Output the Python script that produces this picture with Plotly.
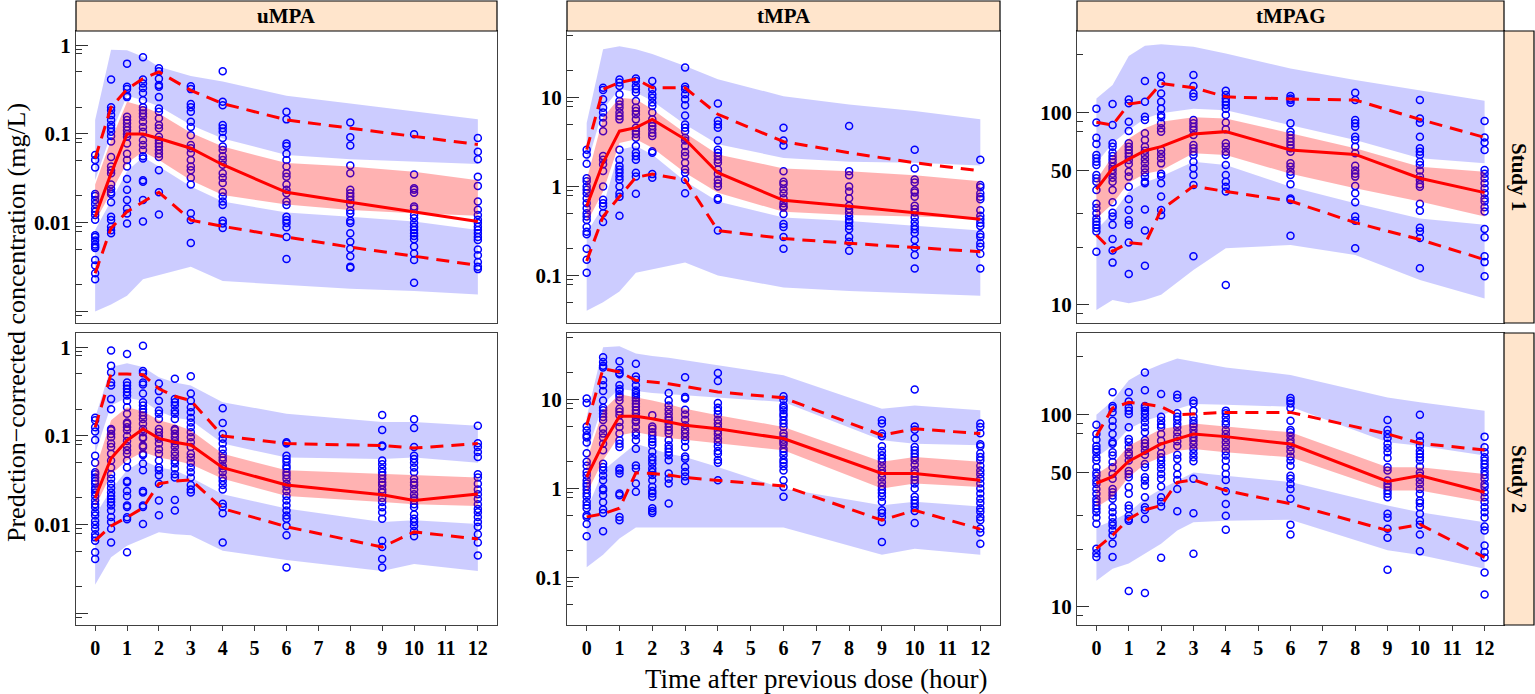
import plotly.graph_objects as go

# ---------------- data ----------------
T1 = [0, 0.5, 1, 1.5, 2, 3, 4, 6, 8, 10, 12]
T2 = [0, 0.5, 1, 1.5, 2, 2.5, 3, 4, 6, 9, 10, 12]
COL_LABELS = ["uMPA", "tMPA", "tMPAG"]
ROW_LABELS = ["Study 1", "Study 2"]
X_TICKS = list(range(13))

Y_MAJOR_U = [0.001, 0.01, 0.1, 1]
Y_MAJOR_U_TXT = ["", "0.01", "0.1", "1"]
Y_MINOR_U = [0.0009, 0.002, 0.005, 0.008, 0.009, 0.02, 0.05, 0.08, 0.09,
             0.2, 0.5, 0.8, 0.9]
Y_MAJOR_T = [0.1, 1, 10]
Y_MAJOR_T_TXT = ["0.1", "1", "10"]
Y_MINOR_T = [0.05, 0.08, 0.09, 0.2, 0.5, 0.8, 0.9, 2, 5, 8, 9, 20, 50]
Y_MAJOR_G = [10, 50, 100]
Y_MAJOR_G_TXT = ["10", "50", "100"]
Y_MINOR_G = [9, 20, 30, 80, 90, 200]

# ---- uMPA, Study 1 ----
A_med = [0.0117, 0.036, 0.1, 0.1, 0.089, 0.069, 0.045, 0.022, 0.017, 0.0133, 0.0103]
A_p95 = [0.053, 0.2, 0.32, 0.42, 0.5, 0.31, 0.22, 0.144, 0.116, 0.093, 0.076]
A_p05 = [0.0027, 0.0087, 0.0133, 0.0173, 0.022, 0.0107, 0.0091, 0.0069, 0.0053, 0.0042, 0.0033]
A_ub_hi = [0.144, 0.89, 0.88, 0.74, 0.57, 0.45, 0.39, 0.27, 0.22, 0.18, 0.146]
A_ub_lo = [0.030, 0.1, 0.27, 0.24, 0.205, 0.126, 0.089, 0.058, 0.052, 0.049, 0.046]
A_pk_hi = [0.027, 0.085, 0.23, 0.205, 0.17, 0.103, 0.072, 0.047, 0.043, 0.0376, 0.030]
A_pk_lo = [0.0103, 0.022, 0.047, 0.063, 0.051, 0.030, 0.0205, 0.016, 0.0139, 0.0128, 0.012]
A_lb_hi = [0.0083, 0.018, 0.038, 0.055, 0.043, 0.0256, 0.0173, 0.013, 0.0117, 0.0103, 0.0083]
A_lb_lo = [0.001, 0.0012, 0.0015, 0.0023, 0.0026, 0.0032, 0.0022, 0.002, 0.0018, 0.0017, 0.00155]
A_obs = [
    [0.058, 0.051, 0.042, 0.021, 0.020, 0.018, 0.0163, 0.0145, 0.0133, 0.0122, 0.0108, 0.0072,
     0.0069, 0.0063, 0.0057, 0.0054, 0.0052, 0.0038, 0.0033, 0.0027, 0.0023],
    [0.41, 0.2, 0.185, 0.163, 0.144, 0.126, 0.116, 0.106, 0.095, 0.082, 0.055, 0.043, 0.039,
     0.036, 0.027, 0.024, 0.022, 0.021, 0.017, 0.0117, 0.0107, 0.009, 0.0082, 0.0076],
    [0.62, 0.34, 0.32, 0.27, 0.26, 0.156, 0.144, 0.132, 0.12, 0.11, 0.1, 0.093, 0.078, 0.06,
     0.051, 0.043, 0.031, 0.0235, 0.018, 0.0145, 0.0127, 0.0098],
    [0.73, 0.41, 0.37, 0.33, 0.29, 0.24, 0.2, 0.185, 0.17, 0.156, 0.137, 0.12, 0.106, 0.085,
     0.075, 0.066, 0.056, 0.053, 0.030, 0.029, 0.018, 0.0103],
    [0.55, 0.51, 0.42, 0.355, 0.34, 0.26, 0.194, 0.178, 0.15, 0.126, 0.116, 0.093, 0.085, 0.078,
     0.072, 0.066, 0.06, 0.055, 0.039, 0.022, 0.0124],
    [0.345, 0.32, 0.217, 0.2, 0.178, 0.137, 0.12, 0.097, 0.075, 0.069, 0.061, 0.051, 0.043,
     0.039, 0.032, 0.027, 0.0128, 0.0107, 0.0059],
    [0.51, 0.23, 0.21, 0.126, 0.116, 0.106, 0.09, 0.072, 0.066, 0.056, 0.051, 0.045, 0.036,
     0.032, 0.028, 0.022, 0.0197, 0.0173, 0.0158, 0.0105, 0.0098, 0.0087],
    [0.178, 0.146, 0.078, 0.073, 0.06, 0.051, 0.043, 0.036, 0.033, 0.027, 0.0235, 0.0215,
     0.0173, 0.0158, 0.0117, 0.0107, 0.0099, 0.0089, 0.0069, 0.0039],
    [0.135, 0.092, 0.074, 0.044, 0.036, 0.0235, 0.0215, 0.0197, 0.018, 0.0163, 0.0137, 0.0127,
     0.0105, 0.0099, 0.0076, 0.0061, 0.0051, 0.0042, 0.0032, 0.0031],
    [0.099, 0.035, 0.0245, 0.0235, 0.0218, 0.0152, 0.0145, 0.0122, 0.0112, 0.0099, 0.009,
     0.0083, 0.0076, 0.0071, 0.0065, 0.0054, 0.0045, 0.0038, 0.0021],
    [0.09, 0.063, 0.052, 0.033, 0.026, 0.0173, 0.014, 0.0122, 0.0108, 0.0099, 0.009, 0.0083,
     0.0076, 0.0069, 0.0064, 0.0050, 0.0043, 0.0036, 0.0032, 0.0030],
]

# ---- tMPA, Study 1 ----
B_med = [0.6, 1.85, 4.2, 4.6, 5.7, 3.4, 1.43, 0.7, 0.6, 0.51, 0.43]
B_p95 = [2.6, 12.4, 14.8, 16.2, 12.9, 12.9, 6.5, 3.2, 2.4, 1.85, 1.5]
B_p05 = [0.145, 0.46, 0.77, 1.27, 1.38, 1.19, 0.32, 0.26, 0.23, 0.205, 0.185]
B_ub_hi = [5.2, 35, 38, 35, 31, 22.7, 16.1, 10.4, 8.4, 7.1, 5.7]
B_ub_lo = [1.7, 7.4, 12.6, 11.4, 9.2, 5.0, 3.0, 2.1, 1.9, 1.85, 1.73]
B_pk_hi = [1.19, 6.0, 10, 9.6, 7.4, 4.0, 2.3, 1.6, 1.49, 1.34, 1.15]
B_pk_lo = [0.39, 0.88, 3.1, 3.4, 2.73, 1.43, 0.85, 0.52, 0.48, 0.46, 0.44]
B_lb_hi = [0.3, 0.6, 2.6, 2.85, 2.3, 1.15, 0.68, 0.45, 0.41, 0.36, 0.32]
B_lb_lo = [0.04, 0.05, 0.066, 0.107, 0.117, 0.14, 0.1, 0.073, 0.067, 0.063, 0.059]
B_obs = [
    [2.6, 2.3, 1.8, 1.24, 1.15, 1.0, 0.92, 0.84, 0.74, 0.65, 0.57, 0.5, 0.46, 0.42, 0.35, 0.31,
     0.29, 0.2, 0.15, 0.107],
    [12.9, 12.2, 9.6, 7.7, 6.8, 6.0, 5.2, 4.2, 2.2, 2.0, 1.78, 1.5, 1.0, 0.71, 0.65, 0.6, 0.5, 0.4],
    [16, 14.8, 13.5, 10.9, 9.2, 8.4, 7.7, 6.8, 6.2, 5.7, 2.6, 2.0, 1.7, 1.56, 1.43, 1.3, 1.19,
     1.0, 0.84, 0.77, 0.47],
    [16.4, 15.4, 13.5, 12.4, 11.4, 9.2, 7.7, 7.1, 6.5, 5.7, 4.6, 4.2, 3.9, 3.55, 2.85, 2.4, 2.2,
     2.0, 1.43, 1.3, 0.83],
    [15.4, 12.4, 10.9, 10, 8.8, 8.06, 6.8, 5.7, 5.2, 4.8, 4.4, 4.0, 3.7, 2.5, 2.4, 1.38, 1.26],
    [21.8, 13.3, 12.4, 10.9, 9.6, 8.2, 6.3, 5.0, 4.6, 4.2, 3.55, 3.3, 2.85, 2.45, 2.2, 1.85,
     1.56, 1.43, 1.19, 0.84],
    [8.6, 5.5, 5.0, 4.6, 3.3, 2.6, 2.4, 2.2, 2.0, 1.85, 1.56, 1.38, 1.19, 1.08, 1.0, 0.74, 0.71, 0.32],
    [4.6, 3.3, 2.9, 1.49, 1.13, 1.06, 0.93, 0.84, 0.74, 0.65, 0.6, 0.58, 0.49, 0.38, 0.35, 0.27, 0.2],
    [4.8, 1.49, 1.34, 1.0, 0.88, 0.74, 0.61, 0.56, 0.51, 0.46, 0.42, 0.4, 0.36, 0.33, 0.27, 0.24, 0.19],
    [2.6, 1.6, 1.2, 1.11, 0.9, 0.86, 0.77, 0.61, 0.56, 0.51, 0.45, 0.4, 0.36, 0.33, 0.3, 0.25,
     0.205, 0.17, 0.12],
    [2.0, 1.04, 0.98, 0.84, 0.77, 0.72, 0.54, 0.47, 0.43, 0.39, 0.36, 0.29, 0.27, 0.23, 0.21,
     0.175, 0.12],
]

# ---- tMPAG, Study 1 ----
C_med = [39.9, 51.4, 57.3, 63.4, 66.6, 77.5, 79.7, 64.0, 60.7, 45.6, 38.4]
C_p95 = [89.1, 86.3, 110.9, 114, 142, 135, 121, 117.8, 116.4, 92.3, 74.4]
C_p05 = [23.1, 19.0, 21.1, 20.7, 31.2, 41.5, 38.9, 34.7, 26.8, 21.9, 17.2]
C_ub_hi = [118.7, 139.4, 197, 223, 227, 220, 203, 170, 148, 130.2, 115.5]
C_ub_lo = [54.5, 69.3, 81.3, 93.4, 99.2, 105, 103, 86.3, 72.1, 57.9, 54.5]
C_pk_hi = [44.7, 59.5, 73.5, 82.9, 89.8, 94.6, 93.4, 78.1, 65.3, 52.4, 49.3]
C_pk_lo = [28.2, 33.6, 43.3, 48.1, 50, 61.5, 60.3, 48.1, 40.4, 34.5, 28.8]
C_lb_hi = [24.6, 30, 38.8, 43.3, 46.5, 55.6, 53.5, 41.2, 33.8, 28.2, 26.1]
C_lb_lo = [9.4, 10.6, 10.2, 10.6, 11.3, 15.2, 19.7, 20.5, 18.2, 13.5, 10.8]
C_obs = [
    [105, 89, 74, 68.8, 60.3, 57.9, 55.6, 53.5, 47.4, 45.6, 43.7, 39.6, 33.6, 31.9, 30, 28.2,
     27.1, 26.1, 25.1, 24.1, 18.9],
    [110.9, 86.3, 69.3, 66.6, 62, 59.5, 57.3, 55.1, 52.4, 50.4, 48.1, 45.9, 43.7, 39.6, 34.2,
     30.2, 28.8, 26.1, 22, 19.2, 16.6],
    [117, 112, 89.8, 80.3, 69.3, 66.6, 64, 61.5, 59.2, 56.8, 54.1, 49.3, 46.5, 41.2, 35.5, 31.2,
     27.6, 26.1, 21.1, 14.5],
    [146, 114, 95.3, 91.6, 78.1, 72.1, 66.6, 63.4, 60.3, 57.3, 54.5, 51.4, 48.8, 46.5, 43.7,
     42.9, 31.4, 24.4, 16],
    [155, 142, 126, 114, 105, 97.3, 94.6, 88, 82.9, 79.7, 64, 61, 57.9, 54.5, 48.1, 46.8, 42.9,
     36.6, 31.2, 29.3],
    [157, 137.5, 126, 121, 91.6, 88, 84.6, 81.3, 76.6, 67.9, 65.3, 62.7, 60.3, 55.6, 51.4, 47.4,
     42.1, 17.9],
    [130.2, 123.5, 118.7, 114, 109.6, 105, 97.3, 89, 81.9, 69.3, 66.6, 62.7, 60.3, 53.5, 47.4,
     43.7, 41.2, 38.9, 12.7],
    [122, 118.7, 116.4, 112.7, 88, 79.7, 76.6, 73.5, 70.7, 68, 65.3, 62.7, 54.5, 52.4, 49.3,
     47.4, 42.5, 35.8, 35.1, 22.9],
    [127, 116.4, 91.6, 88, 84.6, 75, 72.1, 66.6, 61.5, 52.9, 50, 48.1, 46.5, 41.5, 38.1, 34.2,
     28.8, 27.4, 19.7],
    [116.4, 93.4, 88.7, 75, 65.3, 62.7, 60.3, 55.6, 53.5, 50, 46.5, 44.7, 42.5, 41.2, 33.6,
     30.9, 25.2, 24.1, 22.3, 15.5],
    [90.5, 74.4, 69.9, 64, 50.4, 48.1, 45.6, 42.9, 40.4, 38.1, 35.8, 34.5, 32.2, 30.6, 24.8,
     22.5, 17.9, 16.7, 14.1],
]

# ---- uMPA, Study 2 ----
D_med = [0.020, 0.056, 0.089, 0.12, 0.094, 0.085, 0.079, 0.044, 0.028, 0.0218, 0.0187, 0.0222]
D_p95 = [0.125, 0.5, 0.5, 0.49, 0.34, 0.28, 0.25, 0.1, 0.082, 0.078, 0.073, 0.082]
D_p05 = [0.0066, 0.0097, 0.0121, 0.0155, 0.029, 0.031, 0.032, 0.0152, 0.0095, 0.0056, 0.0083, 0.0069]
D_ub_hi = [0.16, 0.6, 0.66, 0.6, 0.46, 0.4, 0.37, 0.24, 0.178, 0.144, 0.144, 0.13]
D_ub_lo = [0.063, 0.22, 0.27, 0.25, 0.19, 0.16, 0.15, 0.082, 0.057, 0.055, 0.057, 0.05]
D_pk_hi = [0.041, 0.15, 0.21, 0.19, 0.15, 0.135, 0.116, 0.063, 0.041, 0.037, 0.036, 0.034]
D_pk_lo = [0.0158, 0.037, 0.053, 0.066, 0.057, 0.053, 0.048, 0.033, 0.021, 0.018, 0.017, 0.0162]
D_lb_hi = [0.0127, 0.025, 0.041, 0.053, 0.044, 0.041, 0.034, 0.022, 0.0152, 0.0107, 0.0112, 0.0102]
D_lb_lo = [0.0021, 0.0043, 0.0058, 0.0069, 0.0082, 0.0078, 0.0076, 0.0051, 0.004, 0.003, 0.0036, 0.003]
D_obs = [
    [0.16, 0.15, 0.125, 0.112, 0.09, 0.06, 0.05, 0.039, 0.037, 0.034, 0.031, 0.029, 0.026,
     0.025, 0.023, 0.021, 0.0187, 0.017, 0.0157, 0.0138, 0.0127, 0.011, 0.01, 0.009, 0.0078,
     0.0072, 0.0066, 0.0049, 0.0041],
    [0.92, 0.62, 0.52, 0.40, 0.37, 0.26, 0.2, 0.12, 0.116, 0.105, 0.097, 0.082, 0.075, 0.063,
     0.053, 0.044, 0.037, 0.033, 0.029, 0.026, 0.023, 0.021, 0.0195, 0.018, 0.0165, 0.0145,
     0.0122, 0.0107, 0.009, 0.0063],
    [0.84, 0.40, 0.37, 0.34, 0.31, 0.285, 0.25, 0.21, 0.178, 0.142, 0.137, 0.125, 0.116, 0.1,
     0.088, 0.077, 0.069, 0.063, 0.053, 0.044, 0.031, 0.03, 0.024, 0.021, 0.0165, 0.0158,
     0.0121, 0.0115, 0.0049],
    [1.04, 0.54, 0.51, 0.40, 0.38, 0.3, 0.24, 0.22, 0.2, 0.185, 0.17, 0.155, 0.137, 0.12, 0.11,
     0.097, 0.094, 0.078, 0.075, 0.063, 0.061, 0.049, 0.041, 0.024, 0.023, 0.0165, 0.0158, 0.0102],
    [0.39, 0.32, 0.25, 0.193, 0.178, 0.155, 0.12, 0.11, 0.1, 0.093, 0.082, 0.071, 0.063, 0.053,
     0.044, 0.041, 0.036, 0.029, 0.0187, 0.0128],
    [0.44, 0.26, 0.24, 0.22, 0.193, 0.178, 0.155, 0.12, 0.116, 0.106, 0.097, 0.088, 0.082,
     0.075, 0.066, 0.06, 0.053, 0.049, 0.043, 0.037, 0.034, 0.019, 0.0145],
    [0.47, 0.3, 0.25, 0.21, 0.185, 0.16, 0.142, 0.125, 0.11, 0.097, 0.085, 0.075, 0.063, 0.057,
     0.05, 0.044, 0.039, 0.034, 0.028, 0.025, 0.023],
    [0.205, 0.14, 0.105, 0.093, 0.082, 0.071, 0.063, 0.057, 0.053, 0.046, 0.043, 0.039, 0.034,
     0.031, 0.028, 0.025, 0.0172, 0.0158, 0.0135, 0.0063],
    [0.085, 0.082, 0.06, 0.055, 0.051, 0.046, 0.043, 0.039, 0.036, 0.033, 0.029, 0.027, 0.024,
     0.021, 0.0187, 0.0165, 0.0145, 0.0127, 0.0117, 0.0097, 0.0076, 0.0033],
    [0.172, 0.117, 0.078, 0.076, 0.053, 0.048, 0.043, 0.039, 0.036, 0.033, 0.03, 0.028, 0.025,
     0.023, 0.020, 0.018, 0.0157, 0.0138, 0.0117, 0.0066, 0.0056, 0.0041, 0.0033],
    [0.154, 0.123, 0.075, 0.06, 0.055, 0.05, 0.044, 0.039, 0.033, 0.03, 0.028, 0.025, 0.022,
     0.02, 0.0187, 0.017, 0.0157, 0.013, 0.0117, 0.0107, 0.0097, 0.0085, 0.0074],
    [0.13, 0.083, 0.075, 0.066, 0.058, 0.037, 0.034, 0.029, 0.025, 0.022, 0.0195, 0.017, 0.015,
     0.0138, 0.0122, 0.0107, 0.0095, 0.0078, 0.0063, 0.0045],
]

# ---- tMPA, Study 2 ----
E_med = [1.35, 3.2, 6.5, 6.5, 6.1, 5.6, 5.15, 4.7, 3.65, 1.48, 1.48, 1.24]
E_p95 = [5.15, 22.3, 20.5, 16.5, 15.8, 15.1, 14.1, 12.2, 10.5, 3.97, 4.7, 4.15]
E_p05 = [0.48, 0.52, 0.6, 1.5, 1.48, 1.42, 1.33, 1.24, 1.07, 0.44, 0.57, 0.35]
E_ub_hi = [6.4, 39, 40, 33, 31, 29.6, 27.7, 24.3, 18.8, 7.9, 8.6, 7.6]
E_ub_lo = [2.47, 9.0, 13.2, 12.5, 11.9, 11.5, 11.2, 10.5, 9.4, 3.49, 3.2, 3.07]
E_pk_hi = [2.08, 7.6, 11.5, 10.7, 9.8, 8.9, 7.9, 6.7, 4.93, 2.0, 2.27, 2.0]
E_pk_lo = [0.88, 2.08, 3.97, 4.3, 3.97, 3.7, 3.49, 3.2, 2.7, 1.0, 1.14, 1.04]
E_lb_hi = [0.57, 1.6, 2.27, 3.2, 2.8, 2.47, 2.27, 1.75, 1.0, 0.65, 0.71, 0.63]
E_lb_lo = [0.13, 0.18, 0.275, 0.365, 0.365, 0.365, 0.365, 0.365, 0.365, 0.18, 0.21, 0.18]
E_obs = [
    [10.3, 9.2, 5.0, 4.5, 3.97, 3.75, 3.3, 2.5, 2.0, 1.8, 1.54, 1.4, 1.24, 1.14, 1.06, 0.97,
     0.88, 0.81, 0.71, 0.65, 0.6, 0.5, 0.48, 0.4, 0.29],
    [30, 26.5, 24.1, 23, 16.5, 14.5, 12.5, 9.8, 8.1, 7.6, 7.0, 6.4, 5.9, 4.7, 4.15, 3.75, 3.2,
     2.7, 1.9, 1.75, 1.6, 1.4, 1.24, 1.0, 0.96, 0.84, 0.7, 0.58, 0.53, 0.33],
    [27, 21.6, 20, 19.3, 14.5, 13.2, 12.5, 11.5, 10.7, 9.8, 7.9, 7.3, 6.7, 5.6, 4.93, 4.15,
     3.49, 3.2, 2.94, 1.68, 1.6, 1.48, 0.88, 0.84, 0.48, 0.44],
    [25.4, 18.2, 16.8, 14.5, 12.7, 11.9, 11.2, 10.5, 9.8, 9.0, 8.3, 7.6, 7.0, 6.4, 5.86, 5.6,
     4.93, 4.3, 3.97, 3.5, 2.8, 1.82, 1.68, 1.14, 0.92],
    [6.7, 5.0, 4.7, 4.3, 3.97, 3.6, 3.35, 3.1, 2.6, 2.27, 2.08, 1.9, 1.68, 1.54, 1.42, 1.24,
     1.05, 0.94, 0.88, 0.81, 0.6, 0.56, 0.53],
    [11.9, 9.8, 8.6, 7.7, 6.96, 6.3, 5.86, 5.4, 4.93, 4.5, 4.15, 3.49, 3.07, 2.8, 2.57, 2.37,
     2.08, 1.48, 1.29, 1.14, 0.68],
    [17.9, 10.7, 10.3, 7.7, 6.8, 5.95, 5.15, 4.6, 4.2, 3.8, 3.43, 2.94, 2.3, 2.17, 1.75, 1.54,
     1.37, 1.22],
    [20, 16.2, 9.2, 8.1, 7.5, 6.8, 5.95, 5.4, 4.93, 4.45, 4.1, 3.65, 3.35, 3.0, 2.65, 2.47,
     2.1, 1.95, 1.24],
    [10.9, 10, 8.6, 8.1, 7.6, 6.96, 6.5, 5.86, 5.4, 4.93, 4.2, 3.87, 3.55, 3.35, 3.15, 2.8,
     2.6, 2.37, 2.1, 1.95, 1.78, 1.6, 1.24, 1.04, 0.81],
    [5.86, 5.4, 4.15, 3.87, 3.0, 2.65, 2.37, 2.17, 2.0, 1.78, 1.6, 1.48, 1.33, 1.18, 1.06,
     0.97, 0.89, 0.81, 0.71, 0.57, 0.53, 0.48, 0.42, 0.25],
    [13, 5.0, 4.6, 3.7, 2.94, 2.7, 2.47, 2.27, 2.08, 1.85, 1.62, 1.48, 1.35, 1.24, 1.14, 1.0,
     0.81, 0.74, 0.68, 0.62, 0.56, 0.41],
    [5.4, 4.93, 4.2, 3.15, 3.0, 2.5, 2.27, 2.08, 1.8, 1.6, 1.45, 1.29, 1.14, 1.0, 0.88, 0.77,
     0.69, 0.6, 0.55, 0.48, 0.44, 0.355, 0.32, 0.24],
]

# ---- tMPAG, Study 2 ----
F_med = [44, 47.6, 57.3, 63.8, 70.4, 74.8, 79.4, 76.9, 70.4, 45, 48.2, 39.5]
F_p95 = [77.8, 108.3, 115.9, 113.6, 110, 100, 100.8, 102.8, 102.8, 79.4, 71, 65.5]
F_p05 = [20.1, 23.6, 28.7, 32, 33.7, 44.5, 45.8, 40.3, 34.4, 25, 26.9, 18.1]
F_ub_hi = [100, 118.2, 151, 169, 183, 196, 189, 176, 161, 123, 116, 105]
F_ub_lo = [60, 69, 84.3, 93.1, 98.8, 107, 113.6, 112.7, 110, 71.9, 69, 61.3]
F_pk_hi = [49.2, 55.4, 69, 76.3, 84.3, 86.7, 90.1, 86.7, 81, 53.3, 53.3, 49.2]
F_pk_lo = [33, 37.2, 47.3, 55.4, 60, 65, 66.3, 63.7, 60, 40.3, 40.3, 35]
F_lb_hi = [26, 28.1, 31.1, 36.5, 41.1, 45.5, 50, 48.1, 44.6, 33.7, 31.1, 27.6]
F_lb_lo = [13.7, 15.8, 16.8, 19, 21.3, 25, 27.6, 28.1, 28.4, 19.7, 18.6, 15.8]
F_obs = [
    [88.7, 79.4, 74.1, 68.8, 66.2, 63.7, 60, 57.7, 53.3, 50, 48.1, 45.4, 43.6, 41.1, 38.8,
     36.5, 35.1, 33.7, 32.4, 31.1, 29.2, 27.1, 20.1, 19, 18.2],
    [131, 111, 108.3, 103, 93.1, 86.7, 79.4, 72, 70.6, 63.7, 61.3, 56.7, 53.3, 49.2, 46.4,
     41.1, 39.5, 38, 36.5, 33, 31.1, 29.2, 27.6, 26.5, 25, 23.6, 21.4, 18.2],
    [131, 117.3, 109, 105, 100.8, 86, 74.8, 72, 67.7, 63.7, 61.3, 57.7, 51, 49.2, 47.3, 42,
     38.8, 33.7, 32.4, 29.8, 28.7, 28.1, 12.1],
    [166, 134, 111, 108.3, 105, 100.8, 96, 91.3, 86, 81, 73.9, 71, 68.3, 65, 61.9, 55.4, 53.3,
     47.3, 45.4, 42.8, 37.2, 33, 31.9, 28.7, 11.8],
    [128, 97.6, 93.1, 88.7, 86, 79.4, 73.3, 68.3, 63, 60, 57.7, 55, 52.3, 49.2, 46.4, 42.3,
     37.2, 35.1, 33.3, 18],
    [127, 122, 101.6, 97.6, 94, 89.4, 86, 81, 76.9, 72.7, 68.8, 61.9, 58.8, 53.3, 48.8, 45.8,
     41.1, 31.5],
    [118.2, 114.5, 105, 97.6, 93.1, 89.4, 86.7, 83.3, 79.4, 76.3, 73.3, 69.9, 66.3, 63, 60,
     57.2, 46.4, 30.7, 18.9],
    [105, 101.6, 96.9, 92.3, 88.7, 83.3, 79.4, 75.7, 71.9, 68.3, 64.5, 61.3, 57.7, 53.3, 49.2,
     45.8, 40, 34.3, 29.8, 25.2],
    [122, 118.2, 114.5, 108.3, 93.1, 83.3, 81, 77.8, 73.9, 71, 67.7, 64.5, 60.7, 57.7, 54.3,
     48.1, 46.4, 43.6, 41.1, 36.5, 26.8, 23.8],
    [93.8, 83.3, 79.4, 75.7, 70.6, 67.1, 63.7, 59.5, 53.3, 51.3, 45.4, 43.6, 42, 40.3, 38.8,
     37.2, 30.5, 29.1, 25.5, 22.9, 15.6],
    [100, 77.8, 72.7, 69, 65, 62.5, 60, 57.7, 53.7, 50, 48.1, 45.8, 43.6, 41.1, 38.8, 35.8,
     34.7, 33, 30.5, 28.1, 26.8, 23.8, 19.5],
    [76.9, 67.7, 63.7, 60, 57.7, 55.4, 53.3, 50.6, 48.6, 46.4, 43.6, 42, 39.5, 37.2, 35.1, 33,
     31.1, 29.2, 26.2, 25, 20.9, 19.3, 18.1, 15.1, 11.6],
]

# ---------------- layout geometry (pixels) ----------------
W, H = 1535, 694
COL_PX = [(76, 497), (567, 1000), (1077, 1504)]
ROW_PX = [(31, 323), (333, 625)]
STRIP_TOP = (1, 31)
STRIP_RIGHT = (1504, 1534)
Y_RANGES = [[-3.13, 0.16], [-1.535, 1.75], [0.906, 2.425]]
X_RANGE = [-0.6, 12.6]

FONT = "Liberation Serif"
BLUE_BAND = "rgba(0,0,255,0.2)"
RED_BAND = "rgba(255,0,0,0.3)"
RED = "#FF0000"
PT_BLUE = "#0000FF"
DASH = "13px,8px"

panels = [
    (T1, A_obs, A_med, A_p95, A_p05, A_ub_hi, A_ub_lo, A_pk_hi, A_pk_lo, A_lb_hi, A_lb_lo),
    (T1, B_obs, B_med, B_p95, B_p05, B_ub_hi, B_ub_lo, B_pk_hi, B_pk_lo, B_lb_hi, B_lb_lo),
    (T1, C_obs, C_med, C_p95, C_p05, C_ub_hi, C_ub_lo, C_pk_hi, C_pk_lo, C_lb_hi, C_lb_lo),
    (T2, D_obs, D_med, D_p95, D_p05, D_ub_hi, D_ub_lo, D_pk_hi, D_pk_lo, D_lb_hi, D_lb_lo),
    (T2, E_obs, E_med, E_p95, E_p05, E_ub_hi, E_ub_lo, E_pk_hi, E_pk_lo, E_lb_hi, E_lb_lo),
    (T2, F_obs, F_med, F_p95, F_p05, F_ub_hi, F_ub_lo, F_pk_hi, F_pk_lo, F_lb_hi, F_lb_lo),
]
y_major = [(Y_MAJOR_U, Y_MAJOR_U_TXT, Y_MINOR_U),
           (Y_MAJOR_T, Y_MAJOR_T_TXT, Y_MINOR_T),
           (Y_MAJOR_G, Y_MAJOR_G_TXT, Y_MINOR_G)]

fig = go.Figure()
layout = {}


def px_x(p):
    return p / W


def px_y(p):
    return 1 - p / H


for i, (T, obs, med, p95, p05, ubh, ubl, pkh, pkl, lbh, lbl) in enumerate(panels):
    r, c = divmod(i, 3)
    n = i + 1
    xa = "x" if n == 1 else f"x{n}"
    ya = "y" if n == 1 else f"y{n}"
    # observations
    xs, ys = [], []
    for t, vals in zip(T, obs):
        xs += [t] * len(vals)
        ys += vals
    fig.add_trace(go.Scatter(x=xs, y=ys, mode="markers", xaxis=xa, yaxis=ya,
                             marker=dict(symbol="circle-open", size=7, color=PT_BLUE,
                                         line=dict(width=1.5, color=PT_BLUE)),
                             hoverinfo="skip", showlegend=False))
    # bands
    for hi, lo, col in [(ubh, ubl, BLUE_BAND), (lbh, lbl, BLUE_BAND), (pkh, pkl, RED_BAND)]:
        fig.add_trace(go.Scatter(x=list(T) + list(T)[::-1], y=list(hi) + list(lo)[::-1],
                                 mode="lines", fill="toself", fillcolor=col,
                                 line=dict(width=0), xaxis=xa, yaxis=ya,
                                 hoverinfo="skip", showlegend=False))
    # lines
    for vals, dash in [(med, "solid"), (p95, DASH), (p05, DASH)]:
        fig.add_trace(go.Scatter(x=T, y=vals, mode="lines", xaxis=xa, yaxis=ya,
                                 line=dict(color=RED, width=3, dash=dash),
                                 hoverinfo="skip", showlegend=False))

    x0, x1 = COL_PX[c]
    y0, y1 = ROW_PX[r]
    xkey = "xaxis" if n == 1 else f"xaxis{n}"
    ykey = "yaxis" if n == 1 else f"yaxis{n}"
    layout[xkey] = dict(
        domain=[px_x(x0), px_x(x1)], anchor=ya, range=X_RANGE,
        showgrid=False, zeroline=False, showline=True, mirror=True,
        linecolor="#404040", linewidth=1.2,
        tickmode="array", tickvals=X_TICKS,
        ticks="outside" if r == 1 else "", ticklen=5, tickwidth=1.2, tickcolor="#404040",
        showticklabels=(r == 1),
        tickfont=dict(family=FONT, size=20, color="black", weight="bold"),
    )
    maj, txt, mnr = y_major[c]
    layout[ykey] = dict(
        domain=[px_y(y1), px_y(y0)], anchor=xa, type="log", range=Y_RANGES[c],
        showgrid=False, zeroline=False, showline=True, mirror=True,
        linecolor="#404040", linewidth=1.2,
        tickmode="array", tickvals=maj, ticktext=txt,
        ticks="inside", ticklen=12, tickwidth=1.2, tickcolor="#303030",
        tickfont=dict(family=FONT, size=21, color="black", weight="bold"),
        minor=dict(tickmode="array", tickvals=mnr, ticks="inside", ticklen=6,
                   tickwidth=1, tickcolor="#303030", showgrid=False),
    )

shapes = []
annotations = []
for c, lab in enumerate(COL_LABELS):
    x0, x1 = COL_PX[c]
    shapes.append(dict(type="rect", xref="paper", yref="paper",
                       x0=px_x(x0), x1=px_x(x1), y0=px_y(STRIP_TOP[1]), y1=px_y(STRIP_TOP[0]),
                       fillcolor="#FFE5CC", line=dict(color="black", width=1.2), layer="above"))
    annotations.append(dict(xref="paper", yref="paper", x=px_x((x0 + x1) / 2),
                            y=px_y((STRIP_TOP[0] + STRIP_TOP[1]) / 2), text=lab, showarrow=False,
                            font=dict(family=FONT, size=21, color="black", weight="bold"),
                            xanchor="center", yanchor="middle"))
for r, lab in enumerate(ROW_LABELS):
    y0, y1 = ROW_PX[r]
    shapes.append(dict(type="rect", xref="paper", yref="paper",
                       x0=px_x(STRIP_RIGHT[0]), x1=px_x(STRIP_RIGHT[1]), y0=px_y(y1), y1=px_y(y0),
                       fillcolor="#FFE5CC", line=dict(color="black", width=1.2), layer="above"))
    annotations.append(dict(xref="paper", yref="paper", x=px_x(sum(STRIP_RIGHT) / 2),
                            y=px_y((y0 + y1) / 2), text=lab, showarrow=False, textangle=90,
                            font=dict(family=FONT, size=21, color="black", weight="bold"),
                            xanchor="center", yanchor="middle"))

annotations.append(dict(xref="paper", yref="paper", x=px_x(816), y=px_y(679),
                        text="Time after previous dose (hour)", showarrow=False,
                        font=dict(family=FONT, size=27, color="black"),
                        xanchor="center", yanchor="middle"))
annotations.append(dict(xref="paper", yref="paper", x=px_x(16), y=px_y(323),
                        text="Predction\u2212corrected concentration (mg/L)", showarrow=False,
                        textangle=-90, font=dict(family=FONT, size=26, color="black"),
                        xanchor="center", yanchor="middle"))

fig.update_layout(width=W, height=H, margin=dict(l=0, r=0, t=0, b=0),
                  paper_bgcolor="white", plot_bgcolor="white", showlegend=False,
                  shapes=shapes, annotations=annotations, **layout)

fig.write_html("out.html", config={"displayModeBar": False},
               post_script="document.body.style.margin='0';")
